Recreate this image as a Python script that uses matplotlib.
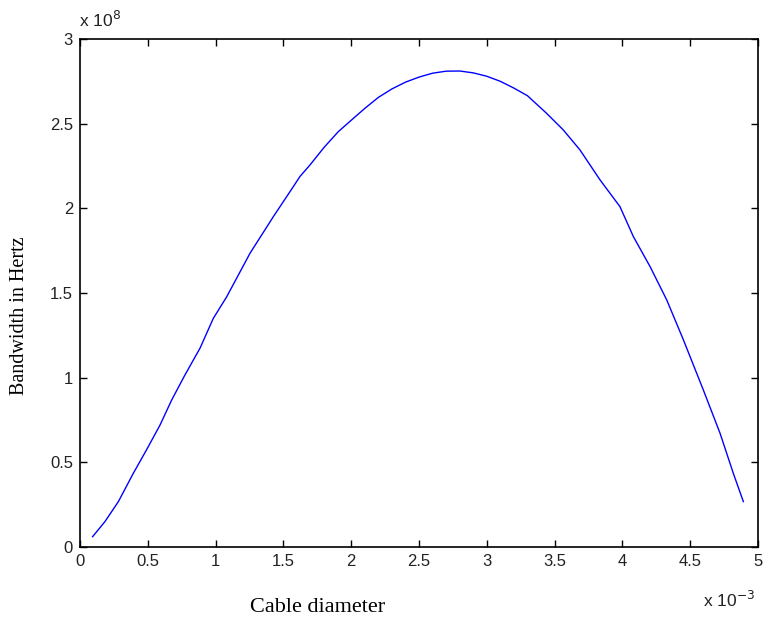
import matplotlib.pyplot as plt

# cable diameter (x 1e-3) and bandwidth (x 1e8 Hz)
diameter = [0.093, 0.184, 0.283, 0.393, 0.49, 0.59, 0.676, 0.774, 0.885, 0.983,
            1.082, 1.254, 1.426, 1.573, 1.622, 1.696, 1.80, 1.905, 2.0, 2.1,
            2.2, 2.3, 2.4, 2.5, 2.6, 2.7, 2.8, 2.9, 3.0, 3.1,
            3.2, 3.3, 3.441, 3.564, 3.687, 3.835, 3.982, 4.081, 4.204, 4.327,
            4.45, 4.597, 4.72, 4.818, 4.892]
bandwidth = [0.061, 0.15, 0.268, 0.435, 0.573, 0.72, 0.868, 1.016, 1.174, 1.35,
             1.478, 1.735, 1.951, 2.128, 2.188, 2.256, 2.36, 2.453, 2.52, 2.59,
             2.655, 2.705, 2.745, 2.775, 2.798, 2.81, 2.811, 2.8, 2.78, 2.75,
             2.71, 2.665, 2.561, 2.463, 2.345, 2.168, 2.01, 1.833, 1.656, 1.459,
             1.223, 0.927, 0.672, 0.435, 0.268]

xticks = [0, 0.5, 1, 1.5, 2, 2.5, 3, 3.5, 4, 4.5, 5]
yticks = [0, 0.5, 1, 1.5, 2, 2.5, 3]

fig = plt.figure(figsize=(7.63, 6.21), dpi=100)
ax = fig.add_axes([80 / 763, 1 - 547 / 621, 678 / 763, 508 / 621])

ax.plot(diameter, bandwidth, color='#0000ff', linewidth=1.0)

ax.set_xlim(0, 5)
ax.set_ylim(0, 3)
ax.set_xticks(xticks)
ax.set_yticks(yticks)
ax.set_xticklabels([f"{t:g}" for t in xticks])
ax.set_yticklabels([f"{t:g}" for t in yticks])
ax.tick_params(direction='in', length=5, width=1, top=True, right=True,
               labelsize=12, labelcolor='#222222', pad=5)
for lbl in ax.get_xticklabels() + ax.get_yticklabels():
    lbl.set_family('Liberation Sans')
for s in ax.spines.values():
    s.set_linewidth(1.2)

# exponent labels
fig.text(79 / 763, 1 - 20 / 621, r'x 10$^{8}$', fontsize=12.5, family='Liberation Sans',
         color='#222222', ha='left', va='center')
fig.text(703 / 763, 1 - 600 / 621, r'x 10$^{-3}$', fontsize=12.5, family='Liberation Sans',
         color='#222222', ha='left', va='center')

fig.text(318 / 763, 1 - 608 / 621, 'Cable diameter', fontsize=16, family='Liberation Serif',
         ha='center', va='center')
fig.text(20 / 763, 1 - 316 / 621, 'Bandwidth in Hertz', fontsize=14.5, family='Liberation Serif',
         ha='center', va='center', rotation=90)

fig.savefig('out.png', dpi=100)
